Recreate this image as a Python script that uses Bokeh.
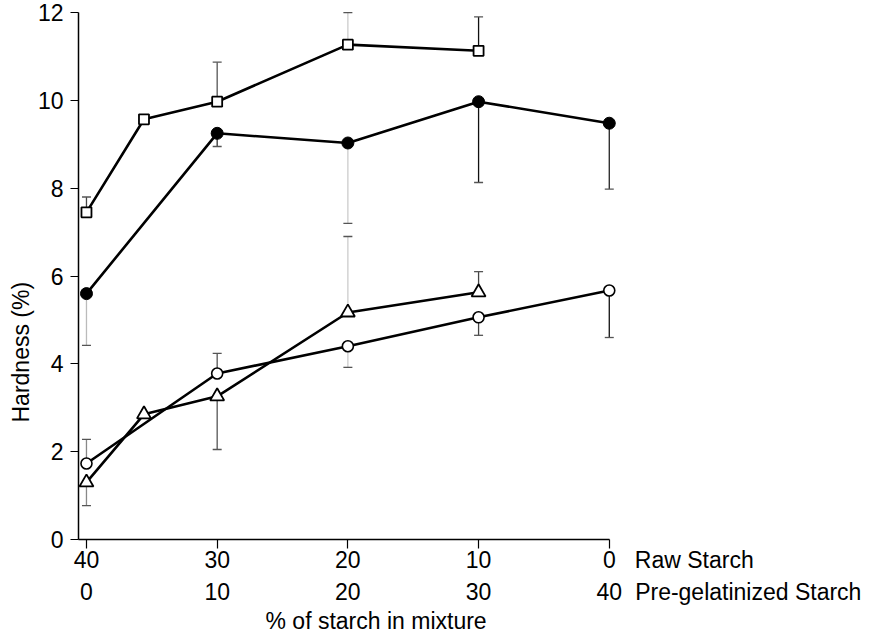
from bokeh.plotting import figure
from bokeh.models import Range1d, LinearAxis, FixedTicker, Title, ColumnDataSource
from bokeh.embed import file_html
from bokeh.resources import INLINE

# ---- data ----
tick_pos = [0, 10, 20, 30, 40]
raw_labels = ["40", "30", "20", "10", "0"]
pregel_labels = ["0", "10", "20", "30", "40"]
y_ticks = [0, 2, 4, 6, 8, 10, 12]
row_names = ["Raw Starch", "Pre-gelatinized Starch"]

# open squares
sq_x = [0, 4.4, 10, 20, 30]
sq_y = [7.45, 9.57, 9.97, 11.27, 11.13]
sq_err = [7.8, None, 10.87, 12.0, 11.9]

# filled circles
fc_x = [0, 10, 20, 30, 40]
fc_y = [5.6, 9.25, 9.03, 9.97, 9.48]
fc_err = [4.42, 8.95, 7.2, 8.13, 7.98]

# open triangles
tr_x = [0, 4.4, 10, 20, 30]
tr_y = [1.3, 2.85, 3.26, 5.17, 5.63]
tr_err = [0.77, None, 2.05, 6.9, 6.1]

# open circles
oc_x = [0, 10, 20, 30, 40]
oc_y = [1.73, 3.78, 4.4, 5.06, 5.67]
oc_err = [2.28, 4.24, 3.92, 4.65, 4.6]

# error-bar line shades (style)
sq_err_col = ["#444444", None, "#555555", "#cccccc", "#111111"]
fc_err_col = ["#bbbbbb", "#333333", "#cccccc", "#111111", "#222222"]
tr_err_col = ["#888888", None, "#555555", "#cccccc", "#444444"]
oc_err_col = ["#888888", "#555555", "#cccccc", "#444444", "#111111"]

FONT = "Liberation Sans"
FS = "23px"
PX_PER_UNIT = 13.07
X0 = -0.61
FRAME_W = 783
# label positions for the row names (left edge at fixed offset from axis end)
raw_name_pos = 40 + (26 + 59) / PX_PER_UNIT
pre_name_pos = 40 + (26 + 113) / PX_PER_UNIT

p = figure(frame_width=FRAME_W, frame_height=530,
           x_range=Range1d(X0, X0 + FRAME_W / PX_PER_UNIT),
           y_range=Range1d(0, 12.07),
           x_axis_location=None, y_axis_location=None,
           output_backend="svg", toolbar_location=None,
           min_border_left=78, min_border_right=0, min_border_top=9,
           min_border_bottom=0)
p.outline_line_color = None
p.grid.visible = False
p.background_fill_color = "white"

# y axis
yax = LinearAxis(ticker=FixedTicker(ticks=y_ticks), bounds=(0, 12))
yax.major_tick_out = 8
yax.major_tick_in = 0
yax.minor_tick_line_color = None
yax.major_label_standoff = 7
yax.axis_line_width = 1.5
yax.major_tick_line_width = 1.2
yax.major_label_text_font = FONT
yax.major_label_text_font_size = FS
yax.major_label_text_color = "black"
p.add_layout(yax, "left")

p.add_layout(Title(text="Hardness (%)", align="left", offset=117,
                   text_font=FONT, text_font_size=FS,
                   text_font_style="normal", text_color="black",
                   vertical_align="middle", standoff=0), "left")

# x axis line + ticks
xax0 = LinearAxis(ticker=FixedTicker(ticks=tick_pos), bounds=(X0, 40))
xax0.major_tick_out = 9
xax0.major_tick_in = 0
xax0.minor_tick_line_color = None
xax0.major_label_standoff = 0
xax0.major_label_text_font_size = "0px"
xax0.major_label_overrides = {t: "" for t in tick_pos}
xax0.axis_line_width = 1.5
xax0.major_tick_line_width = 1.2
p.add_layout(xax0, "below")


def label_axis(ticks, labels, standoff):
    ax = LinearAxis(ticker=FixedTicker(ticks=ticks),
                    major_label_overrides=dict(zip(ticks, labels)))
    ax.axis_line_color = None
    ax.major_tick_line_color = None
    ax.minor_tick_line_color = None
    ax.major_tick_out = 0
    ax.major_tick_in = 0
    ax.major_label_standoff = standoff
    ax.major_label_text_font = FONT
    ax.major_label_text_font_size = FS
    ax.major_label_text_color = "black"
    return ax


p.add_layout(label_axis(tick_pos + [raw_name_pos], raw_labels + [row_names[0]], -2), "below")
p.add_layout(label_axis(tick_pos + [pre_name_pos], pregel_labels + [row_names[1]], 3), "below")

p.add_layout(Title(text="% of starch in mixture", align="left", offset=187,
                   text_font=FONT, text_font_size=FS,
                   text_font_style="normal", text_color="black",
                   vertical_align="top", standoff=0), "below")


def err_source(xs, ys, errs, cols):
    d = dict(x=[], y0=[], y1=[], c=[])
    for xv, yv, ev, cv in zip(xs, ys, errs, cols):
        if ev is None:
            continue
        d["x"].append(xv)
        d["y0"].append(yv)
        d["y1"].append(ev)
        d["c"].append(cv)
    return ColumnDataSource(d)


series = [
    (sq_x, sq_y, sq_err, sq_err_col),
    (fc_x, fc_y, fc_err, fc_err_col),
    (tr_x, tr_y, tr_err, tr_err_col),
    (oc_x, oc_y, oc_err, oc_err_col),
]

for xs, ys, _, _ in series:
    p.line(xs, ys, line_color="black", line_width=2.6)

for xs, ys, errs, cols in series:
    src = err_source(xs, ys, errs, cols)
    p.segment(x0="x", y0="y0", x1="x", y1="y1", line_color="c",
              line_width=1.3, source=src)
    p.dash(x="x", y="y1", size=9, line_color="#555555", line_width=1.3,
           source=src)

p.scatter(sq_x, sq_y, marker="square", size=10, fill_color="white",
          line_color="black", line_width=1.8)
p.scatter(fc_x, fc_y, marker="circle", size=12, fill_color="black",
          line_color="black", line_width=1)
p.scatter(tr_x, tr_y, marker="triangle", size=14, fill_color="white",
          line_color="black", line_width=1.8)
p.scatter(oc_x, oc_y, marker="circle", size=11, fill_color="white",
          line_color="black", line_width=1.6)

open("out.html", "w").write(file_html(p, INLINE))
